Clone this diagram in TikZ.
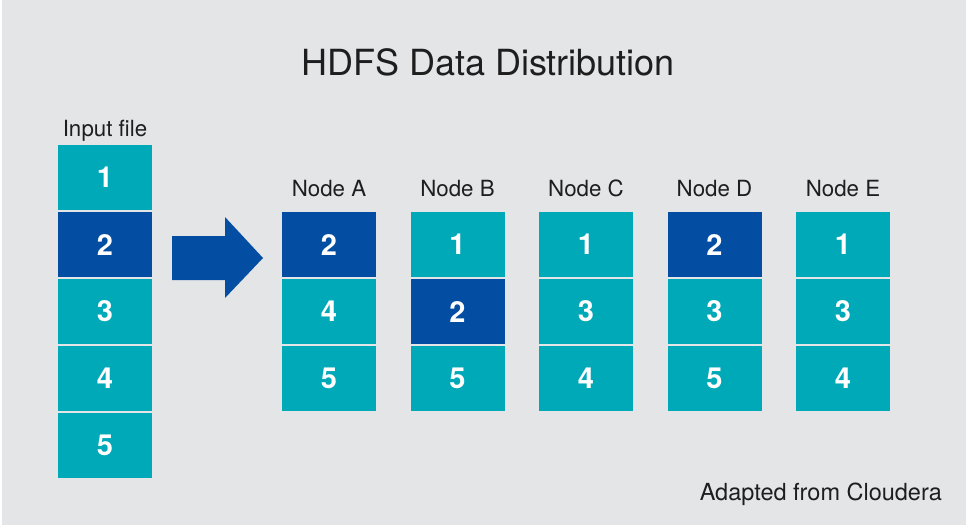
\documentclass[tikz,border=0pt]{standalone}
\usepackage{fontspec}
\setmainfont{TeX Gyre Heros}
\definecolor{bg}{HTML}{E4E5E7}
\definecolor{teal}{HTML}{00A9B8}
\definecolor{dblue}{HTML}{034EA2}
\definecolor{txt}{HTML}{1E1E1E}
\begin{document}
\begin{tikzpicture}[x=1pt,y=-1pt,
  blk/.style={minimum width=94pt,minimum height=65pt,inner sep=0pt,fill=teal,
    text=white,font=\fontsize{29}{29}\selectfont\bfseries},
  dk/.style={blk,fill=dblue},
  lbl/.style={text=txt,font=\fontsize{22.3}{22.3}\selectfont,inner sep=0pt,anchor=base},
]
\useasboundingbox (0,0) rectangle (966,527);
\fill[white] (0,0) rectangle (966,527);
\fill[bg] (2,0) rectangle (966,525);
\node[text=txt,font=\fontsize{36}{36}\selectfont,inner sep=0pt] (title) at (488,62) {HDFS Data Distribution};
\node[lbl] (inlbl) at (105,136.5) {Input file};
\node[blk] (i1) at (105,177.5) {1};
\node[dk]  (i2) at (105,244.5) {2};
\node[blk] (i3) at (105,311.5) {3};
\node[blk] (i4) at (105,378.5) {4};
\node[blk] (i5) at (105,445.5) {5};
\fill[dblue] (172,236) -- (225,236) -- (225,217) -- (263,258) -- (225,298) -- (225,280) -- (172,280) -- cycle;
% Node A
\node[lbl] (la) at (329,196) {Node A};
\node[dk]  (a1) at (329,244.5) {2};
\node[blk] (a2) at (329,311.5) {4};
\node[blk] (a3) at (329,378.5) {5};
% Node B
\node[lbl] (lb) at (457.5,196) {Node B};
\node[blk] (b1) at (457.5,244.5) {1};
\node[dk]  (b2) at (457.5,311.5) {2};
\node[blk] (b3) at (457.5,378.5) {5};
% Node C
\node[lbl] (lc) at (586,196) {Node C};
\node[blk] (c1) at (586,244.5) {1};
\node[blk] (c2) at (586,311.5) {3};
\node[blk] (c3) at (586,378.5) {4};
% Node D
\node[lbl] (ld) at (714.5,196) {Node D};
\node[dk]  (d1) at (714.5,244.5) {2};
\node[blk] (d2) at (714.5,311.5) {3};
\node[blk] (d3) at (714.5,378.5) {5};
% Node E
\node[lbl] (le) at (843,196) {Node E};
\node[blk] (e1) at (843,244.5) {1};
\node[blk] (e2) at (843,311.5) {3};
\node[blk] (e3) at (843,378.5) {4};
\node[lbl,font=\fontsize{23.5}{23.5}\selectfont,anchor=base east] (src) at (942,500.5) {Adapted from Cloudera};
\end{tikzpicture}
\end{document}
